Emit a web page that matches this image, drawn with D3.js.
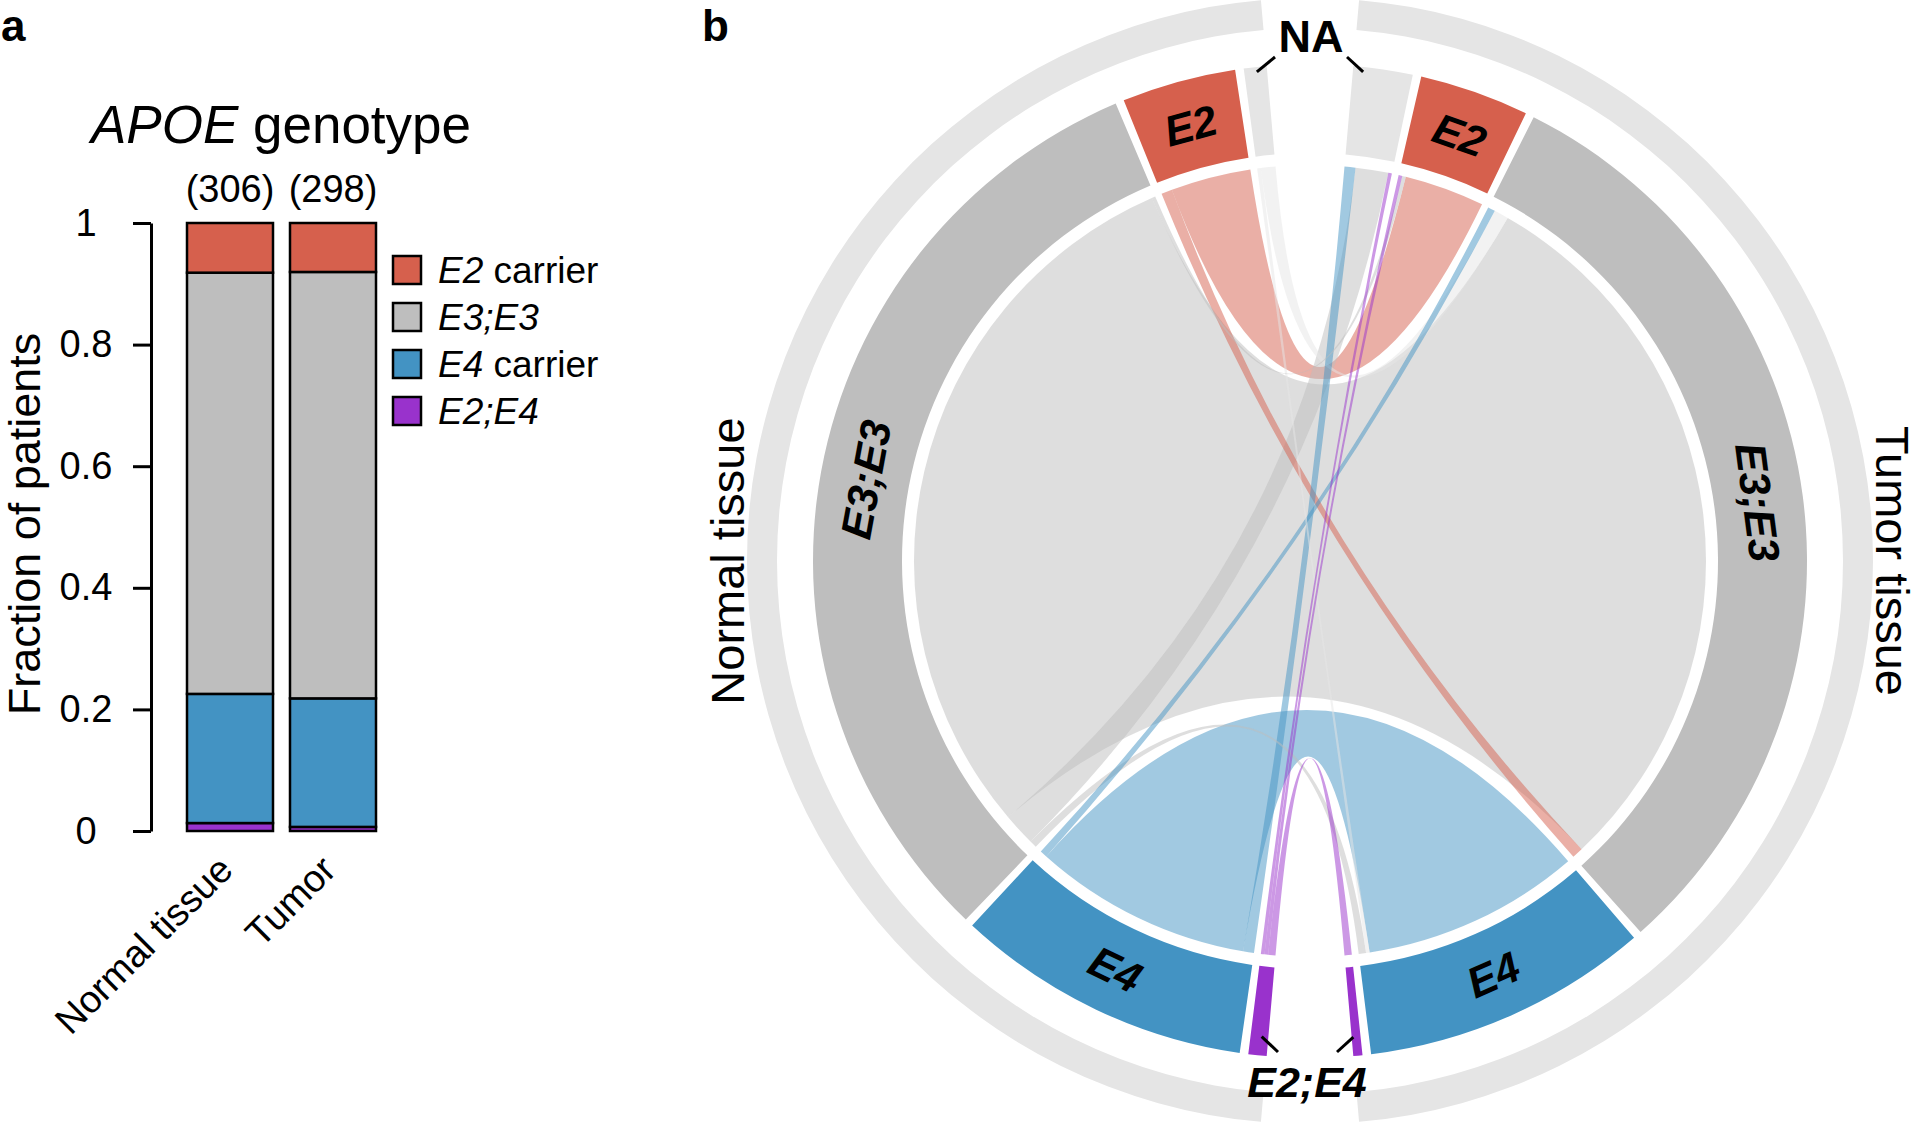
<!DOCTYPE html>
<html>
<head>
<meta charset="utf-8">
<script src="https://cdn.jsdelivr.net/npm/d3@7"></script>
<style>
  body { margin: 0; background: #fff; }
  svg { display: block; font-family: "Liberation Sans", Arial, Helvetica, sans-serif; }
</style>
</head>
<body>
<svg id="fig" width="1920" height="1122"></svg>
<script>
// --- data ---
const genotypes = ["NA", "E2", "E3;E3", "E4", "E2;E4"];
const genotypeColors = ["#e5e5e5", "#d6604d", "#bebebe", "#4393c3", "#9932cc"];
const normalCounts = [5, 25, 212, 65, 4];
const tumorCounts = [13, 24, 209, 63, 2];

// patient links normal -> tumor, listed in their order along the normal side
const linkNormal = ["NA", "NA", "E2", "E2", "E3;E3", "E3;E3", "E3;E3", "E3;E3", "E4", "E4", "E4", "E2;E4", "E2;E4", "E2;E4"];
const linkTumor = ["E3;E3", "E4", "E2", "E3;E3", "E2", "E3;E3", "NA", "E4", "E3;E3", "E4", "NA", "NA", "E2", "E2;E4"];
const linkPatients = [4, 1, 22, 3, 1, 200, 9, 2, 2, 60, 3, 1, 1, 2];
// order of the same links along the tumor side
const tumorSideOrder = [10, 6, 11, 12, 4, 2, 8, 0, 5, 3, 9, 1, 7, 13];

const barGroups = ["Normal tissue", "Tumor"];
const stackKeys = ["E2;E4", "E4", "E3;E3", "E2"]; // bottom to top
const legendKeys = ["E2", "E3;E3", "E4", "E2;E4"];
const legendSuffix = [" carrier", "", " carrier", ""];
const yTicks = [0, 0.2, 0.4, 0.6, 0.8, 1];

const svg = d3.select("#fig");
const colorOf = (g) => genotypeColors[genotypes.indexOf(g)];

// ---------- panel a ----------
svg.append("text").attr("x", 1).attr("y", 41)
  .attr("font-size", 44).attr("font-weight", "bold").text("a");

const y = d3.scaleLinear().domain([0, 1]).range([831, 223]);
const x = d3.scaleBand().domain(barGroups).range([187, 376])
  .paddingInner(0.165).paddingOuter(0);

const barCounts = [normalCounts, tumorCounts];
const barRows = barGroups.map((g, i) => {
  const counts = barCounts[i];
  const total = d3.sum(counts.slice(1)); // NA excluded
  const row = { group: g, total: total };
  genotypes.slice(1).forEach((k, j) => { row[k] = counts[j + 1] / total; });
  return row;
});

const stacked = d3.stack().keys(stackKeys)(barRows);

const pa = svg.append("g");
pa.selectAll("g.layer")
  .data(stacked)
  .enter().append("g")
  .attr("class", "layer")
  .attr("fill", (d) => colorOf(d.key))
  .selectAll("rect")
  .data((d) => d)
  .enter().append("rect")
  .attr("x", (d) => x(d.data.group))
  .attr("width", x.bandwidth())
  .attr("y", (d) => y(d[1]))
  .attr("height", (d) => y(d[0]) - y(d[1]))
  .attr("stroke", "#000")
  .attr("stroke-width", 2.5);

const yAxis = d3.axisLeft(y).tickValues(yTicks).tickSize(18).tickSizeOuter(0)
  .tickFormat((d) => (d === 0 || d === 1 ? d3.format("d")(d) : d3.format(".1f")(d)));
const yg = pa.append("g").attr("transform", "translate(151,0)").call(yAxis);
yg.select(".domain").attr("stroke-width", 3);
yg.selectAll(".tick line").attr("stroke-width", 3);
yg.selectAll(".tick text")
  .attr("x", -65).attr("text-anchor", "middle")
  .attr("font-size", 38).attr("font-family", null).attr("fill", "#000");

pa.append("text")
  .attr("transform", "translate(40,524) rotate(-90)")
  .attr("text-anchor", "middle").attr("font-size", 45)
  .text("Fraction of patients");

const title = pa.append("text").attr("x", 281).attr("y", 143)
  .attr("text-anchor", "middle").attr("font-size", 53);
title.append("tspan").attr("font-style", "italic").text("APOE");
title.append("tspan").text(" genotype");

pa.selectAll("text.n")
  .data(barRows)
  .enter().append("text")
  .attr("class", "n")
  .attr("x", (d) => x(d.group) + x.bandwidth() / 2)
  .attr("y", 202)
  .attr("text-anchor", "middle").attr("font-size", 38)
  .text((d) => `(${d.total})`);

pa.selectAll("text.xl")
  .data(barGroups)
  .enter().append("text")
  .attr("class", "xl")
  .attr("transform", (d) => `translate(${x(d) + x.bandwidth() / 2 + 5},872) rotate(-45)`)
  .attr("text-anchor", "end").attr("font-size", 38)
  .text((d) => d);

const legend = pa.append("g").attr("transform", "translate(393,270)");
legendKeys.forEach((k, i) => {
  const row = legend.append("g").attr("transform", `translate(0,${i * 47})`);
  row.append("rect").attr("x", 0).attr("y", -14).attr("width", 28).attr("height", 28)
    .attr("fill", colorOf(k)).attr("stroke", "#000").attr("stroke-width", 2.5);
  const t = row.append("text").attr("x", 45).attr("y", 13).attr("font-size", 37);
  t.append("tspan").attr("font-style", "italic").text(k);
  if (legendSuffix[i]) t.append("tspan").text(legendSuffix[i]);
});

// ---------- panel b ----------
svg.append("text").attr("x", 702).attr("y", 41)
  .attr("font-size", 44).attr("font-weight", "bold").text("b");

const cx = 1310, cy = 561;
const deg = Math.PI / 180;
const halfGap = 5;     // degrees left open at top and bottom
const sectorGap = 1;   // degrees between sectors
const chordR = 396;

const sideTotal = d3.sum(normalCounts);
const angleScale = d3.scaleLinear().domain([0, sideTotal])
  .range([0, 180 - 2 * halfGap - sectorGap * (genotypes.length - 1)]);

function layoutSide(counts) {
  let cum = 0;
  return counts.map((c, i) => {
    const a0 = halfGap + i * sectorGap + angleScale(cum);
    cum += c;
    const a1 = halfGap + i * sectorGap + angleScale(cum);
    return { key: genotypes[i], a0, a1, cursor: a0 };
  });
}
const normalSectors = layoutSide(normalCounts);
const tumorSectors = layoutSide(tumorCounts);

// slots for each link on both sides (degrees from the top, unsigned)
const links = linkPatients.map((v, i) => ({ i, v, src: linkNormal[i], tgt: linkTumor[i] }));
links.forEach((l) => {
  const s = normalSectors[genotypes.indexOf(l.src)];
  const w = angleScale(l.v) - angleScale(0);
  l.s0 = s.cursor; l.s1 = s.cursor + w; s.cursor += w;
});
tumorSideOrder.forEach((idx) => {
  const l = links[idx];
  const s = tumorSectors[genotypes.indexOf(l.tgt)];
  const w = angleScale(l.v) - angleScale(0);
  l.t0 = s.cursor; l.t1 = s.cursor + w; s.cursor += w;
});

const pb = svg.append("g").attr("transform", `translate(${cx},${cy})`);

// outer halves
const ringArc = d3.arc().innerRadius(533).outerRadius(563);
pb.append("path").attr("fill", "#e5e5e5")
  .attr("d", ringArc({ startAngle: -(180 - halfGap) * deg, endAngle: -halfGap * deg }));
pb.append("path").attr("fill", "#e5e5e5")
  .attr("d", ringArc({ startAngle: halfGap * deg, endAngle: (180 - halfGap) * deg }));

// sectors
const sectorArc = d3.arc().innerRadius(408).outerRadius(497);
[[normalSectors, -1], [tumorSectors, 1]].forEach(([secs, sign]) => {
  pb.selectAll(null)
    .data(secs)
    .enter().append("path")
    .attr("fill", (d) => colorOf(d.key))
    .attr("d", (d) => sectorArc({
      startAngle: Math.min(sign * d.a0, sign * d.a1) * deg,
      endAngle: Math.max(sign * d.a0, sign * d.a1) * deg,
    }));
});

// chords
const ribbon = d3.ribbon().radius(chordR);
pb.append("g")
  .selectAll("path")
  .data(links.slice().sort((a, b) => b.v - a.v))
  .enter().append("path")
  .attr("fill", (d) => colorOf(d.src))
  .attr("fill-opacity", 0.5)
  .attr("d", (d) => ribbon({
    source: { startAngle: -d.s1 * deg, endAngle: -d.s0 * deg },
    target: { startAngle: d.t0 * deg, endAngle: d.t1 * deg },
  }));

// sector labels
const labelR = 452;
const labelled = ["E2", "E3;E3", "E4"];
[[normalSectors, -1], [tumorSectors, 1]].forEach(([secs, sign]) => {
  pb.selectAll(null)
    .data(secs.filter((d) => labelled.includes(d.key)))
    .enter().append("text")
    .attr("transform", (d) => {
      const a = sign * (d.a0 + d.a1) / 2;
      const rot = Math.abs(a) > 90 ? a - sign * 180 : a;
      return `translate(${labelR * Math.sin(a * deg)},${-labelR * Math.cos(a * deg)}) rotate(${rot})`;
    })
    .attr("text-anchor", "middle").attr("dy", "0.36em")
    .attr("font-size", 43).attr("font-weight", "bold").attr("font-style", "italic")
    .text((d) => d.key);
});

// NA and E2;E4 labels with leaders
const polar = (a, r) => [r * Math.sin(a * deg), -r * Math.cos(a * deg)];
pb.append("text").attr("x", 1).attr("y", 52 - cy)
  .attr("text-anchor", "middle").attr("font-size", 45).attr("font-weight", "bold").text("NA");
pb.append("text").attr("x", -3).attr("y", 1097 - cy)
  .attr("text-anchor", "middle").attr("font-size", 43).attr("font-weight", "bold")
  .attr("font-style", "italic").text("E2;E4");
const leaders = [
  [polar(-6.2, 492), [-35, 57 - cy]],
  [polar(6.2, 492), [37, 57 - cy]],
  [polar(-174.2, 478), [-32, 1052 - cy]],
  [polar(174.8, 478), [27, 1052 - cy]],
];
pb.selectAll("line.leader")
  .data(leaders)
  .enter().append("line")
  .attr("class", "leader")
  .attr("x1", (d) => d[0][0]).attr("y1", (d) => d[0][1])
  .attr("x2", (d) => d[1][0]).attr("y2", (d) => d[1][1])
  .attr("stroke", "#000").attr("stroke-width", 3);

// side titles
pb.append("text").attr("transform", "translate(-566,0) rotate(-90)")
  .attr("text-anchor", "middle").attr("font-size", 47).text("Normal tissue");
pb.append("text").attr("transform", "translate(566,0) rotate(90)")
  .attr("text-anchor", "middle").attr("font-size", 47).text("Tumor tissue");
</script>
</body>
</html>
